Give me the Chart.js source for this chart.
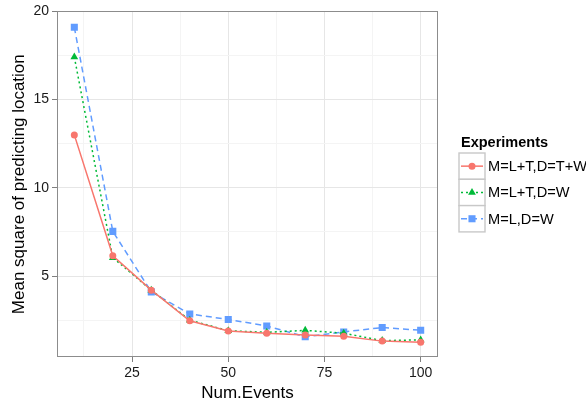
<!DOCTYPE html>
<html>
<head>
<meta charset="utf-8">
<script src="https://cdn.jsdelivr.net/npm/chart.js@4"></script>
<style>
  body { margin: 0; background: #fff; }
</style>
</head>
<body>
<canvas id="msChart" width="586" height="404"></canvas>
<script>
// DATA
const numEvents = [10, 20, 30, 40, 50, 60, 70, 80, 90, 100];
const seriesNames = ['M=L+T,D=T+W', 'M=L+T,D=W', 'M=L,D=W'];
const ltDtw = [13.0, 6.15, 4.2, 2.46, 1.88, 1.75, 1.66, 1.59, 1.31, 1.24];
const ltDw  = [17.42, 6.04, 4.2, 2.5, 1.9, 1.81, 1.92, 1.76, 1.34, 1.38];
const lDw   = [19.1, 7.53, 4.1, 2.85, 2.54, 2.17, 1.56, 1.83, 2.08, 1.93];
const xMajorTicks = [25, 50, 75, 100];
const xMinorTicks = [12.5, 37.5, 62.5, 87.5];
const yMajorTicks = [5, 10, 15, 20];
const yMinorTicks = [2.5, 7.5, 12.5, 17.5];
const legendTitle = 'Experiments';
// DATA

const FONT = '"Liberation Sans", Arial, Helvetica, sans-serif';
const RED = '#F8766D', GREEN = '#00BA38', BLUE = '#619CFF';

function toPoints(vals) {
  return numEvents.map((x, i) => ({ x: x, y: vals[i] }));
}

const data = {
  datasets: [
    {
      label: seriesNames[0], data: toPoints(ltDtw),
      borderColor: RED, backgroundColor: RED, borderWidth: 1.5,
      pointStyle: 'circle', pointRadius: 3.5, pointBorderWidth: 0
    },
    {
      label: seriesNames[1], data: toPoints(ltDw),
      borderColor: GREEN, backgroundColor: GREEN, borderWidth: 1.5, borderDash: [2, 3],
      pointStyle: 'triangle', pointRadius: 4.5, pointBorderWidth: 0
    },
    {
      label: seriesNames[2], data: toPoints(lDw),
      borderColor: BLUE, backgroundColor: BLUE, borderWidth: 1.5, borderDash: [6, 4],
      pointStyle: 'rect', pointRadius: 5, pointBorderWidth: 0
    }
  ]
};

// ggplot style panel border + legend
const ggPlugin = {
  id: 'ggPlugin',
  afterDraw(chart) {
    const ctx = chart.ctx;
    const a = chart.chartArea;
    ctx.save();
    ctx.strokeStyle = '#8c8c8c';
    ctx.lineWidth = 1;
    ctx.strokeRect(Math.round(a.left) + 0.5, Math.round(a.top) + 0.5,
      Math.round(a.right - a.left) - 1, Math.round(a.bottom - a.top) - 1);

    // legend
    ctx.fillStyle = '#000';
    ctx.textBaseline = 'middle';
    ctx.font = 'bold 14.5px ' + FONT;
    ctx.fillText(legendTitle, 461, 143);
    ctx.font = '14.6px ' + FONT;
    chart.data.datasets.forEach((ds, i) => {
      const x0 = 459, y0 = 153 + i * 26.3, w = 26, h = 26.3;
      ctx.fillStyle = '#fff';
      ctx.fillRect(x0, y0, w, h);
      ctx.strokeStyle = '#c8c8c8';
      ctx.lineWidth = 1.4;
      ctx.setLineDash([]);
      ctx.strokeRect(x0, y0, w, h);
      const cy = y0 + h / 2;
      ctx.strokeStyle = ds.borderColor;
      ctx.lineWidth = ds.borderWidth;
      ctx.setLineDash(ds.borderDash || []);
      ctx.beginPath();
      ctx.moveTo(x0 + 2, cy);
      ctx.lineTo(x0 + w - 2, cy);
      ctx.stroke();
      ctx.setLineDash([]);
      ctx.fillStyle = ds.backgroundColor;
      ctx.strokeStyle = ds.borderColor;
      Chart.helpers.drawPoint(ctx, {
        pointStyle: ds.pointStyle, radius: ds.pointRadius, rotation: 0, borderWidth: 0
      }, x0 + w / 2, cy);
      ctx.fillStyle = '#000';
      ctx.fillText(ds.label, 488, cy + 1);
    });
    ctx.restore();
  }
};

const config = {
  type: 'line',
  data: data,
  options: {
    responsive: false,
    animation: false,
    events: [],
    layout: { padding: { top: 10, right: 148, left: 0, bottom: 0 } },
    plugins: { legend: { display: false }, tooltip: { enabled: false } },
    scales: {
      x: {
        type: 'linear',
        min: 5.5, max: 104.5,
        afterBuildTicks: s => { s.ticks = xMinorTicks.concat(xMajorTicks).sort((p, q) => p - q).map(v => ({ value: v })); },
        afterFit: s => { s.height = 47; },
        border: { display: false },
        grid: {
          color: c => (c.tick && c.tick.value % 25 === 0) ? '#e6e6e6' : '#f4f4f4',
          lineWidth: 1,
          tickLength: 5,
          tickColor: c => (c.tick && c.tick.value % 25 === 0) ? '#7f7f7f' : 'rgba(0,0,0,0)'
        },
        ticks: {
          autoSkip: false, maxRotation: 0, padding: 3,
          color: '#1a1a1a', font: { family: FONT, size: 14 },
          callback: v => (v % 25 === 0 ? String(v) : '')
        },
        title: {
          display: true, text: 'Num.Events', color: '#000',
          font: { family: FONT, size: 17 }, padding: { top: 4, bottom: 0 }
        }
      },
      y: {
        type: 'linear',
        min: 0.41, max: 20.0,
        afterBuildTicks: s => { s.ticks = yMinorTicks.concat(yMajorTicks).sort((p, q) => p - q).map(v => ({ value: v })); },
        afterFit: s => { s.width = 57; },
        border: { display: false },
        grid: {
          color: c => (c.tick && c.tick.value % 5 === 0) ? '#e6e6e6' : '#f4f4f4',
          lineWidth: 1,
          tickLength: 5,
          tickColor: c => (c.tick && c.tick.value % 5 === 0) ? '#7f7f7f' : 'rgba(0,0,0,0)'
        },
        ticks: {
          autoSkip: false, padding: 3,
          color: '#1a1a1a', font: { family: FONT, size: 14 },
          callback: v => (v % 5 === 0 ? String(v) : '')
        },
        title: {
          display: true, text: 'Mean square of predicting location', color: '#000',
          font: { family: FONT, size: 17 }, padding: { top: 9, bottom: 0 }
        }
      }
    }
  },
  plugins: [ggPlugin]
};

const msChart = new Chart(document.getElementById('msChart'), config);
</script>
</body>
</html>
